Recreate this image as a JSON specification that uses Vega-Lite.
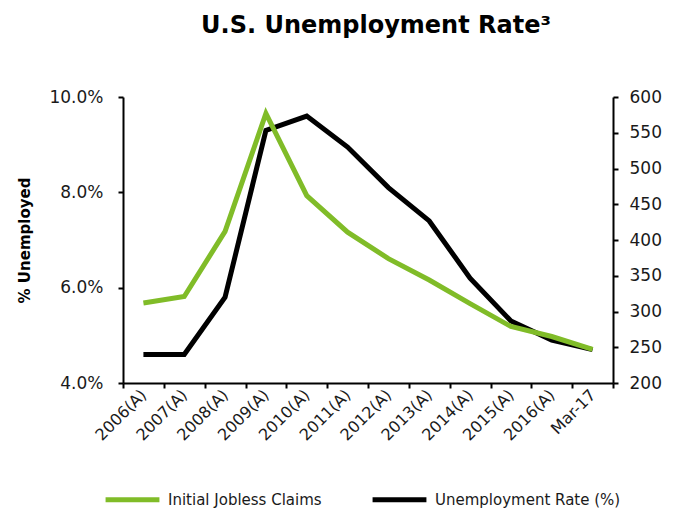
{
  "$schema": "https://vega.github.io/schema/vega-lite/v6.json",
  "width": 490,
  "height": 286,
  "autosize": {"type": "none"},
  "padding": {"left": 123, "top": 97, "right": 65, "bottom": 129},
  "background": "white",
  "config": {
    "font": "DejaVu Sans",
    "view": {"stroke": null},
    "axis": {"labelColor": "#1a1a1a", "domainColor": "black", "tickColor": "black", "domainWidth": 2, "tickWidth": 2, "grid": false}
  },
  "title": {
    "text": "U.S. Unemployment Rate³",
    "fontSize": 24,
    "fontWeight": "bold",
    "color": "black",
    "anchor": "middle",
    "offset": 50,
    "dx": 8
  },
  "data": {
    "values": [
      {"period": "2006(A)", "rate": 4.6, "claims": 312},
      {"period": "2007(A)", "rate": 4.6, "claims": 321},
      {"period": "2008(A)", "rate": 5.8, "claims": 412},
      {"period": "2009(A)", "rate": 9.3, "claims": 577},
      {"period": "2010(A)", "rate": 9.6, "claims": 462},
      {"period": "2011(A)", "rate": 8.95, "claims": 411},
      {"period": "2012(A)", "rate": 8.1, "claims": 374},
      {"period": "2013(A)", "rate": 7.4, "claims": 344},
      {"period": "2014(A)", "rate": 6.2, "claims": 311},
      {"period": "2015(A)", "rate": 5.3, "claims": 279},
      {"period": "2016(A)", "rate": 4.9, "claims": 265},
      {"period": "Mar-17", "rate": 4.7, "claims": 247}
    ]
  },
  "encoding": {
    "x": {
      "field": "period",
      "type": "ordinal",
      "sort": null,
      "scale": {"type": "band", "paddingInner": 0, "paddingOuter": 0},
      "axis": {
        "title": null,
        "labelAngle": -45,
        "labelAlign": "right",
        "labelBaseline": "middle",
        "labelFontSize": 16,
        "labelLimit": 300,
        "labelBound": false,
        "labelOverlap": false,
        "tickBand": "extent",
        "tickSize": 5,
        "labelPadding": 4
      }
    }
  },
  "layer": [
    {
      "mark": {"type": "line", "strokeWidth": 5},
      "encoding": {
        "y": {
          "field": "rate",
          "type": "quantitative",
          "scale": {"domain": [4, 10]},
          "axis": {
            "orient": "left",
            "title": "% Unemployed",
            "titleFontSize": 15,
            "titleFontWeight": "bold",
            "titleColor": "black",
            "titlePadding": 16,
            "values": [4, 6, 8, 10],
            "labelExpr": "format(datum.value, '.1f') + '%'",
            "labelFontSize": 17,
            "tickSize": 5,
            "labelPadding": 15
          }
        },
        "color": {"datum": "Unemployment Rate (%)"}
      }
    },
    {
      "mark": {"type": "line", "strokeWidth": 5},
      "encoding": {
        "y": {
          "field": "claims",
          "type": "quantitative",
          "scale": {"domain": [200, 600]},
          "axis": {
            "orient": "right",
            "title": null,
            "values": [200, 250, 300, 350, 400, 450, 500, 550, 600],
            "labelFontSize": 17,
            "tickSize": 5,
            "labelPadding": 11
          }
        },
        "color": {
          "datum": "Initial Jobless Claims",
          "scale": {"domain": ["Initial Jobless Claims", "Unemployment Rate (%)"], "range": ["#80BC28", "black"]},
          "legend": {
            "title": null,
            "orient": "none",
            "direction": "horizontal",
            "legendX": -20,
            "legendY": 373,
            "symbolType": "stroke",
            "symbolSize": 2900,
            "symbolStrokeWidth": 5,
            "labelFontSize": 15,
            "labelColor": "#1a1a1a",
            "labelOffset": 6,
            "columnPadding": 40,
            "labelLimit": 300
          }
        }
      }
    }
  ],
  "resolve": {"scale": {"y": "independent"}}
}
